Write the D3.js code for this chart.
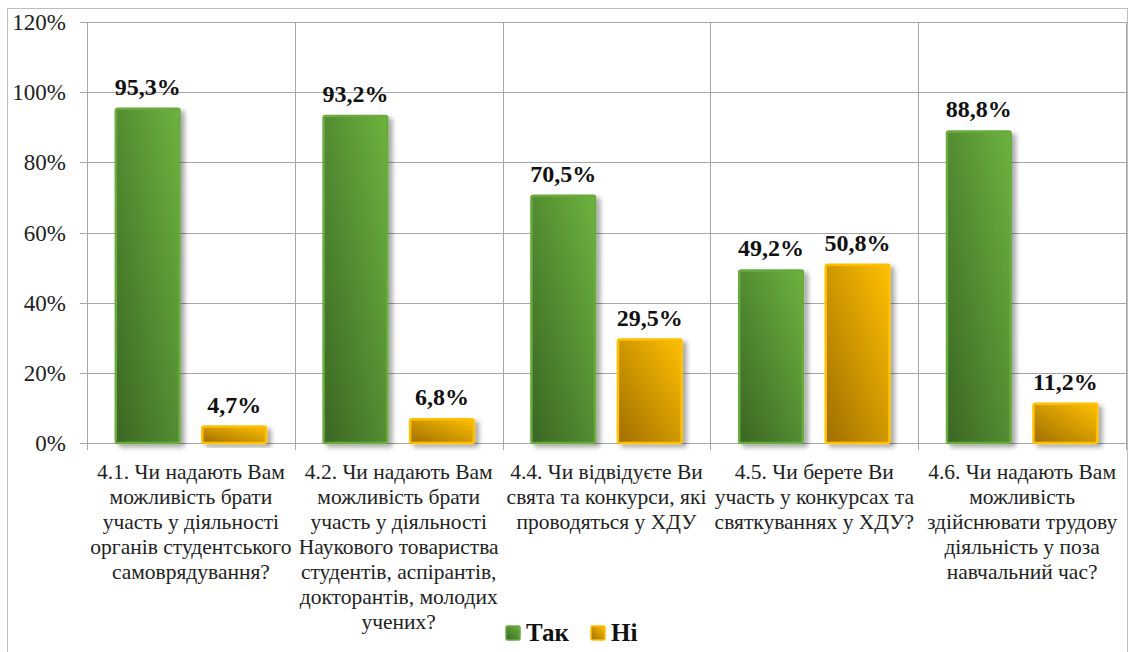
<!DOCTYPE html>
<html><head><meta charset="utf-8">
<script src="https://cdn.jsdelivr.net/npm/d3@7"></script>
<style>body{margin:0;background:#fff}svg{display:block}</style>
</head><body><svg id="c" width="1129" height="652"></svg>
<script>
const categories = [
  ["4.1. Чи надають Вам","можливість брати","участь у діяльності","органів студентського","самоврядування?"],
  ["4.2. Чи надають Вам","можливість брати","участь у діяльності","Наукового товариства","студентів, аспірантів,","докторантів, молодих","учених?"],
  ["4.4. Чи відвідуєте  Ви","свята та конкурси, які","проводяться у ХДУ"],
  ["4.5. Чи берете Ви","участь у конкурсах та","святкуваннях у ХДУ?"],
  ["4.6. Чи надають Вам","можливість","здійснювати трудову","діяльність у поза","навчальний час?"]
];
const seriesNames = ["Так","Ні"];
const tak = [95.3, 93.2, 70.5, 49.2, 88.8];
const ni = [4.7, 6.8, 29.5, 50.8, 11.2];
const yTicks = [0,20,40,60,80,100,120];

const FONT = "Liberation Serif";
const svg = d3.select("#c");
const m={l:87,r:1126,t:22,b:443};
const defs = svg.append("defs");
function grad(id,c1,c2){
  const g=defs.append("linearGradient").attr("id",id).attr("x1","0%").attr("y1","100%").attr("x2","100%").attr("y2","0%");
  g.append("stop").attr("offset","0%").attr("stop-color",c1);
  g.append("stop").attr("offset","100%").attr("stop-color",c2);
}
grad("gG","#3a6624","#6cb33e");
grad("gY","#a06e00","#ffc000");
const f=defs.append("filter").attr("id","sh").attr("x","-20%").attr("y","-20%").attr("width","150%").attr("height","150%");
f.append("feGaussianBlur").attr("in","SourceAlpha").attr("stdDeviation",2.5);
f.append("feOffset").attr("dx",4).attr("dy",3).attr("result","o");
f.append("feComponentTransfer").append("feFuncA").attr("type","linear").attr("slope",0.35);
const mg=f.append("feMerge");mg.append("feMergeNode");mg.append("feMergeNode").attr("in","SourceGraphic");

svg.append("rect").attr("x",7.5).attr("y",8.5).attr("width",1120).attr("height",660).attr("fill","none").attr("stroke","#bfbfbf");

const x0=d3.scaleBand().domain(d3.range(categories.length)).range([m.l,m.r]);
const x1=d3.scaleBand().domain([0,1]).range([0,x0.bandwidth()]).paddingInner(0.264).paddingOuter(0.333);
const y=d3.scaleLinear().domain([0,120]).range([m.b,m.t]);

svg.append("g").selectAll("line").data(yTicks).join("line")
  .attr("x1",m.l-7).attr("x2",m.r).attr("y1",d=>Math.round(y(d))+0.5).attr("y2",d=>Math.round(y(d))+0.5)
  .attr("stroke","#a6a6a6").attr("stroke-width",1);
const bounds=d3.range(categories.length+1).map(i=>i<categories.length?x0(i):m.r);
svg.append("g").selectAll("line").data(bounds).join("line")
  .attr("x1",d=>Math.round(d)+0.5).attr("x2",d=>Math.round(d)+0.5).attr("y1",m.t).attr("y2",m.b+7)
  .attr("stroke","#a6a6a6");

svg.append("g").selectAll("text").data(yTicks).join("text")
  .attr("x",66).attr("y",d=>y(d)).attr("dy","0.35em").attr("text-anchor","end")
  .style("font-family",FONT).attr("font-size",23).attr("fill","#222")
  .text(d=>d+"%");

const series=[tak,ni];
const fills=["url(#gG)","url(#gY)"];
const strokes=["#6aab3f","#ffc000"];
const fmt=v=>v.toFixed(1).replace(".",",")+"%";
series.forEach((vals,s)=>{
  const g=svg.append("g");
  g.selectAll("rect").data(vals).join("rect")
    .attr("x",(d,i)=>x0(i)+x1(s)).attr("width",x1.bandwidth())
    .attr("y",d=>y(d)).attr("height",d=>y(0)-y(d))
    .attr("rx",2).attr("fill",fills[s]).attr("stroke",strokes[s]).attr("stroke-width",2.5)
    .attr("filter","url(#sh)");
  g.selectAll("text").data(vals).join("text")
    .attr("x",(d,i)=>x0(i)+x1(s)+x1.bandwidth()/2).attr("y",d=>y(d)-14)
    .attr("text-anchor","middle").style("font-family",FONT)
    .attr("font-weight","bold").attr("font-size",24).attr("fill","#111").text(fmt);
});

categories.forEach((lines,i)=>{
  const t=svg.append("text").attr("text-anchor","middle").style("font-family",FONT).attr("font-size",21.5).attr("fill","#222");
  lines.forEach((ln,j)=>{
    t.append("tspan").attr("x",x0(i)+x0.bandwidth()/2).attr("y",479+j*25).text(ln);
  });
});

const lg=svg.append("g");
const lx=[506,591];
seriesNames.forEach((n,s)=>{
  lg.append("rect").attr("x",lx[s]).attr("y",626).attr("width",14).attr("height",14).attr("rx",1.5)
    .attr("fill",fills[s]).attr("stroke",strokes[s]).attr("stroke-width",1.5);
  lg.append("text").attr("x",lx[s]+20).attr("y",641).style("font-family",FONT)
    .attr("font-weight","bold").attr("font-size",25).attr("fill","#111").text(n);
});
</script></body></html>
